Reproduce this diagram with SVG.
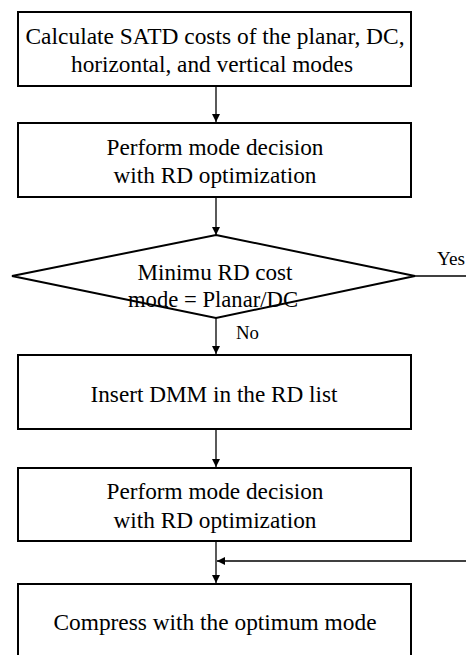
<svg xmlns="http://www.w3.org/2000/svg" width="466" height="655" viewBox="0 0 466 655">
<style>
.box{fill:#fff;stroke:#000;stroke-width:2}
.t{font-family:"Liberation Serif","Times New Roman",serif;font-size:24px;fill:#000;text-anchor:middle}
.s{font-family:"Liberation Serif","Times New Roman",serif;font-size:18px;fill:#000}
.c{stroke:#000;stroke-width:1.3;fill:none}
</style>
<defs>
<marker id="ah" viewBox="0 0 10 10" refX="10" refY="5" markerWidth="8" markerHeight="8" markerUnits="userSpaceOnUse" orient="auto">
<path d="M0,0 L10,5 L0,10 z" fill="#000"/>
</marker>
</defs>
<rect width="466" height="655" fill="#fff"/>
<g id="n1"><rect class="box" x="18" y="12" width="393" height="74"/>
<text class="t" x="215" y="44" textLength="379" lengthAdjust="spacingAndGlyphs">Calculate SATD costs of the planar, DC,</text>
<text class="t" x="212" y="72" textLength="282" lengthAdjust="spacingAndGlyphs">horizontal, and vertical modes</text></g>
<g id="n2"><rect class="box" x="18" y="123" width="393" height="74"/>
<text class="t" x="215" y="155" textLength="217" lengthAdjust="spacingAndGlyphs">Perform mode decision</text>
<text class="t" x="215" y="183" textLength="203" lengthAdjust="spacingAndGlyphs">with RD optimization</text></g>
<g id="n3"><polygon class="box" points="216,235 415,276 216,318 12,276" stroke-width="1.3"/>
<text class="t" x="215" y="280" textLength="155" lengthAdjust="spacingAndGlyphs">Minimu RD cost</text>
<text class="t" x="213" y="307" textLength="170" lengthAdjust="spacingAndGlyphs">mode = Planar/DC</text></g>
<g id="n4"><rect class="box" x="18" y="355" width="393" height="74"/>
<text class="t" x="214" y="402" textLength="247" lengthAdjust="spacingAndGlyphs">Insert DMM in the RD list</text></g>
<g id="n5"><rect class="box" x="18" y="468" width="393" height="73"/>
<text class="t" x="215" y="499" textLength="217" lengthAdjust="spacingAndGlyphs">Perform mode decision</text>
<text class="t" x="215" y="528" textLength="203" lengthAdjust="spacingAndGlyphs">with RD optimization</text></g>
<g id="n6"><rect class="box" x="18" y="584" width="393" height="90"/>
<text class="t" x="215" y="630" textLength="323" lengthAdjust="spacingAndGlyphs">Compress with the optimum mode</text></g>
<g id="connectors">
<line class="c" x1="216" y1="87" x2="216" y2="122" marker-end="url(#ah)"/>
<line class="c" x1="216" y1="198" x2="216" y2="235" marker-end="url(#ah)"/>
<line class="c" x1="216" y1="318" x2="216" y2="354" marker-end="url(#ah)"/>
<line class="c" x1="216" y1="430" x2="216" y2="467" marker-end="url(#ah)"/>
<line class="c" x1="216" y1="542" x2="216" y2="583" marker-end="url(#ah)"/>
<line class="c" x1="415" y1="276" x2="466" y2="276"/>
<line class="c" x1="466" y1="561" x2="217" y2="561" marker-end="url(#ah)"/>
<text class="s" x="437" y="265" textLength="28" lengthAdjust="spacingAndGlyphs">Yes</text>
<text class="s" x="236" y="339" textLength="23" lengthAdjust="spacingAndGlyphs">No</text>
</g>
</svg>
